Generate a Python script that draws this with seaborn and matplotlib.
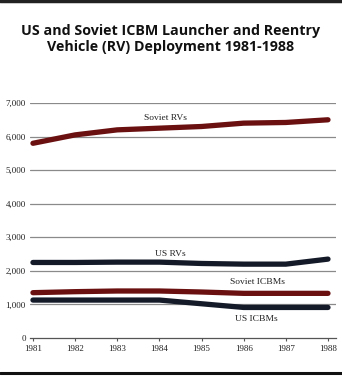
import matplotlib
matplotlib.use("Agg")
import matplotlib.pyplot as plt
import seaborn as sns
import pandas as pd
from matplotlib.ticker import FuncFormatter

years = [1981, 1982, 1983, 1984, 1985, 1986, 1987, 1988]
soviet_rvs = [5800, 6050, 6200, 6250, 6300, 6400, 6420, 6500]
us_rvs = [2250, 2250, 2260, 2260, 2220, 2200, 2200, 2350]
soviet_icbms = [1350, 1380, 1400, 1400, 1370, 1330, 1330, 1330]
us_icbms = [1130, 1130, 1130, 1130, 1020, 910, 910, 910]
series_names = ["Soviet RVs", "US RVs", "Soviet ICBMs", "US ICBMs"]
yticks = [0, 1000, 2000, 3000, 4000, 5000, 6000, 7000]

df = pd.DataFrame({
    "year": years * 4,
    "value": soviet_rvs + us_rvs + soviet_icbms + us_icbms,
    "series": sum([[n] * len(years) for n in series_names], []),
})

sns.set_theme(style="white")
plt.rcParams["font.family"] = ["DejaVu Sans"]

fig = plt.figure(figsize=(3.42, 3.84), dpi=100)
fig.patch.set_facecolor("white")
ax = fig.add_axes([30/342, 46/384, 306/342, 235/384])

red = "#6a1010"
dark = "#141a28"
palette = {"Soviet RVs": red, "US RVs": dark, "Soviet ICBMs": red, "US ICBMs": dark}

for y in yticks[1:]:
    ax.axhline(y, color="#8a8a8a", lw=0.9, zorder=0)

sns.lineplot(data=df, x="year", y="value", hue="series", palette=palette,
             linewidth=3.8, legend=False, ax=ax, zorder=3)

ax.set_xlim(1980.93, 1988.19)
ax.set_ylim(0, 7000)
ax.set_xticks(years)
ax.set_yticks(yticks)
ax.yaxis.set_major_formatter(FuncFormatter(lambda v, p: f"{int(v):,}"))
ax.set_xlabel("")
ax.set_ylabel("")
for s in ["top", "right", "left"]:
    ax.spines[s].set_visible(False)
ax.spines["bottom"].set_color("#555555")
ax.spines["bottom"].set_linewidth(0.9)
ax.tick_params(axis="x", bottom=True, direction="out", length=2, width=0.8,
               color="#555555", labelsize=6.5, pad=3, labelcolor="#222222")
ax.tick_params(axis="y", left=False, length=0, labelsize=6.5, pad=3, labelcolor="#222222")
for lbl in ax.get_yticklabels() + ax.get_xticklabels():
    lbl.set_family("Liberation Serif")

lab = dict(fontsize=6.8, family="Liberation Serif", color="#222222", ha="center", va="center")
ax.text(1984.15, 6560, "Soviet RVs", **lab)
ax.text(1984.27, 2500, "US RVs", **lab)
ax.text(1986.33, 1680, "Soviet ICBMs", **lab)
ax.text(1986.3, 580, "US ICBMs", **lab)

fig.text(0.5, 1 - 39/384, "US and Soviet ICBM Launcher and Reentry\nVehicle (RV) Deployment 1981-1988",
         ha="center", va="center", fontsize=10.3, fontweight="bold", color="#111111",
         linespacing=1.15, family="Open Sans")

fig.add_artist(plt.Line2D([0, 1], [1 - 1/384, 1 - 1/384], color="#222222", lw=2.5, transform=fig.transFigure))
fig.add_artist(plt.Line2D([0, 1], [1 - 373/384, 1 - 373/384], color="#111111", lw=2.2, transform=fig.transFigure))

fig.savefig("out.png", dpi=100, facecolor="white")
